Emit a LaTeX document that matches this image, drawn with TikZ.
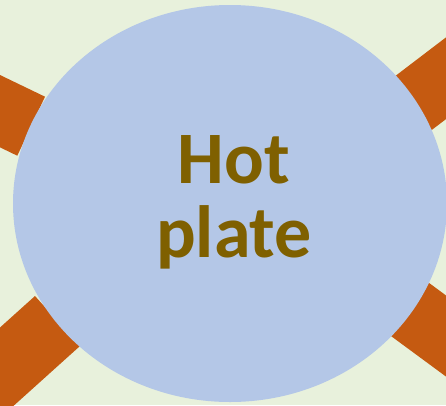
\documentclass[tikz,border=0pt]{standalone}
\usepackage{fontspec}
\setmainfont{Carlito}
\usepackage{tikz}
\definecolor{meadow}{HTML}{E8F1DC}
\definecolor{rust}{HTML}{C55A11}
\definecolor{skyblue}{HTML}{B4C7E7}
\definecolor{ochre}{HTML}{7F6000}
\tikzset{leg/.style={fill=rust},plate/.style={fill=skyblue},label/.style={text=ochre,font=\bfseries\fontsize{74}{74}\selectfont,align=center}}

\begin{document}
\begin{tikzpicture}[x=1pt,y=-1pt]
\useasboundingbox (0,0) rectangle (446,405);
\clip (0,0) rectangle (446,405);
\fill[meadow] (0,0) rectangle (446,405);
\fill[leg] (45,96.7) -- (17.3,155.7) -- ++(-90,-43.4) -- ++(27.7,-59) -- cycle;
\fill[leg] (392.3,78.3) -- (431.7,130) -- ++(79.5,-60.6) -- ++(-39.4,-51.7) -- cycle;
\fill[leg] (35,296) -- (80,346) -- ++(-74.3,66.9) -- ++(-45,-50) -- cycle;
\fill[leg] (426,280.7) -- (387.3,333.3) -- ++(80.5,59.3) -- ++(38.7,-52.6) -- cycle;
\fill[plate] (230,203.5) ellipse [x radius=217, y radius=198.5];
\node[label] (hot) at (234,202.5) {Hot\\plate};
\end{tikzpicture}
\end{document}
